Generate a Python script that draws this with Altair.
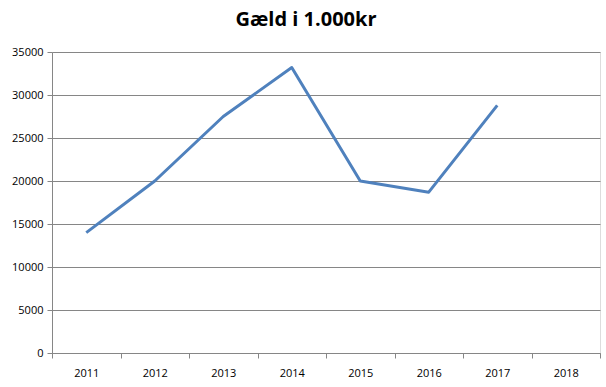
import altair as alt
import pandas as pd

years = ["2011", "2012", "2013", "2014", "2015", "2016", "2017", "2018"]
debt = [14000, 20000, 27500, 33200, 20000, 18700, 28800, None]

df = pd.DataFrame({"year": years, "debt": debt})

base = alt.Chart(df)

line = base.mark_line(color="#4F81BD", strokeWidth=3, strokeJoin="round").encode(
    x=alt.X("year:N", sort=years,
            scale=alt.Scale(domain=years, paddingInner=0, paddingOuter=0),
            axis=alt.Axis(title=None, labelAngle=0, tickBand="extent", grid=False,
                          domainColor="#868686", tickColor="#868686", tickSize=5,
                          labelPadding=9, labelFontSize=11, labelColor="#000000",
                          labelFont="Open Sans")),
    y=alt.Y("debt:Q", scale=alt.Scale(domain=[0, 35000], nice=False),
            axis=alt.Axis(title=None, values=list(range(0, 35001, 5000)), format="d",
                          grid=True, gridColor="#868686", gridWidth=1,
                          domainColor="#868686", tickColor="#868686", tickSize=5,
                          labelPadding=4, labelFontSize=11, labelColor="#000000",
                          labelFont="Open Sans")),
).transform_filter("datum.debt != null")

chart = line.properties(
    width=548,
    height=301,
    title=alt.TitleParams("Gæld i 1.000kr", fontSize=20, font="Open Sans",
                          fontWeight="bold", color="#000000", anchor="middle",
                          dx=-20, offset=16),
    autosize=alt.AutoSizeParams(type="none"),
    padding={"left": 52, "top": 52, "right": 6, "bottom": 33},
).configure_view(stroke=None).configure(background="white")

chart.save("out.html", embed_options={"renderer": "svg", "actions": False})
